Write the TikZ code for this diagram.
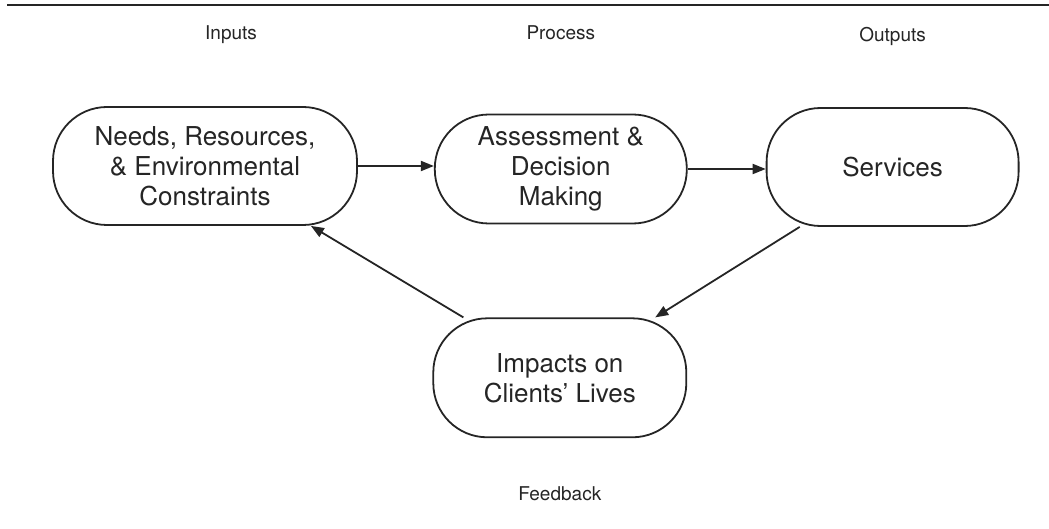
\documentclass[tikz,border=0pt]{standalone}
\usepackage{fontspec}
\setmainfont{TeX Gyre Heros}
\usetikzlibrary{positioning, arrows.meta}
\definecolor{ink}{HTML}{252525}

\begin{document}
\begin{tikzpicture}[
    node distance=38pt,
    stage/.style={rectangle, rounded corners=27pt, draw=ink, line width=0.9pt, text=ink, minimum height=59pt, align=center, inner sep=0pt, font=\fontsize{13}{15}\selectfont},
    header/.style={text=ink, inner sep=0pt, font=\fontsize{9.5}{11}\selectfont},
    arrow/.style={-{Triangle[length=6.5pt, width=5pt]}, line width=0.9pt, draw=ink}
]
\useasboundingbox (0,0) rectangle (524.5pt,-264.5pt);

% Top rule
\draw[ink, line width=0.7pt] (3.5pt,-2.5pt) -- (524.5pt,-2.5pt);

% Stages
\node[stage, minimum width=152pt] (needs) at (102.5pt,-83pt) {Needs, Resources,\\\& Environmental\\Constraints};
\node[stage, minimum width=126pt, minimum height=54.5pt, right=38pt of needs, yshift=-1.5pt] (assess) {Assessment \&\\Decision\\Making};
\node[stage, minimum width=126pt, right=39pt of assess, yshift=1pt] (services) {Services};
\node[stage, minimum width=126.5pt, minimum height=59.5pt, below=46.5pt of assess, xshift=-0.5pt] (impacts) {Impacts on\\Clients' Lives};

% Headers
\node[header, above=31pt of needs, xshift=13pt] (inputs) {Inputs};
\node[header, above=36.5pt of assess] (process) {Process};
\node[header, above=30.5pt of services] (outputs) {Outputs};
\node[header, below=24pt of impacts] (feedback) {Feedback};

% Arrows
\draw[arrow] (needs.east) -- (needs.east -| assess.west);
\draw[arrow] (assess.east) -- (assess.east -| services.west);
\draw[arrow] ([xshift=17pt]services.south west) -- ([xshift=-16pt]impacts.north east);
\draw[arrow] ([xshift=15.5pt]impacts.north west) -- ([xshift=-23.5pt]needs.south east);

\end{tikzpicture}
\end{document}
